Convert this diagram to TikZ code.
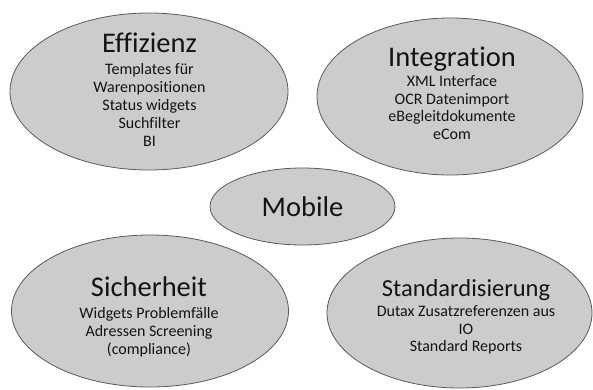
\documentclass[tikz,border=0pt]{standalone}
\usepackage{fontspec}
\setmainfont[Ligatures={NoCommon}]{Carlito}
\usetikzlibrary{shapes.geometric}
\definecolor{blobfill}{HTML}{CCCCCC}
\definecolor{blobline}{HTML}{5A5A5A}
\definecolor{txt}{HTML}{141414}
\tikzset{
  blob/.style={ellipse, draw=blobline, fill=blobfill, line width=0.8pt, inner sep=0pt},
  ttl/.style={anchor=base, inner sep=0pt, text=txt, font=\fontsize{28.5}{32}\selectfont},
  ttlsmall/.style={anchor=base, inner sep=0pt, text=txt, font=\fontsize{24.5}{28}\selectfont},
  sub/.style={anchor=base, inner sep=0pt, text=txt, font=\fontsize{16}{18}\selectfont}
}
\begin{document}
\begin{tikzpicture}[x=1pt,y=-1pt]
\useasboundingbox (0,0) rectangle (593,389);
% ellipses
\node[blob, minimum width=278pt, minimum height=157pt] (eff) at (149,91.5) {};
\node[blob, minimum width=266pt, minimum height=157pt] (int) at (450,96.5) {};
\node[blob, minimum width=185pt, minimum height=77pt] (mob) at (302.5,206.5) {};
\node[blob, minimum width=277pt, minimum height=152pt] (sic) at (150,311) {};
\node[blob, minimum width=265pt, minimum height=150pt] (std) at (459.5,313) {};
% Effizienz
\node[ttl] (eff-t) at (149.5,52.7) {Effizienz};
\node[sub] (eff-1) at (149.5,74.3) {Templates für};
\node[sub] (eff-2) at (149.5,92.4) {Warenpositionen};
\node[sub] (eff-3) at (149.5,110.3) {Status widgets};
\node[sub] (eff-4) at (149.5,128.2) {Suchfilter};
\node[sub] (eff-5) at (149.5,146.1) {BI};
% Integration
\node[ttl] (int-t) at (452,66.7) {Integration};
\node[sub] (int-1) at (452,86) {XML Interface};
\node[sub] (int-2) at (452,104) {OCR Datenimport};
\node[sub] (int-3) at (452,121.7) {eBegleitdokumente};
\node[sub] (int-4) at (452,139.3) {eCom};
% Mobile
\node[ttl] (mob-t) at (302.5,216) {Mobile};
% Sicherheit
\node[ttl] (sic-t) at (149,296.7) {Sicherheit};
\node[sub] (sic-1) at (149,318.3) {Widgets Problemfälle};
\node[sub] (sic-2) at (149,336.4) {Adressen Screening};
\node[sub] (sic-3) at (149,354.3) {(compliance)};
% Standardisierung
\node[ttlsmall] (std-t) at (466,296.7) {Standardisierung};
\node[sub] (std-1) at (466,316.7) {Dutax Zusatzreferenzen aus};
\node[sub] (std-2) at (466,334.3) {IO};
\node[sub] (std-3) at (466,351.9) {Standard Reports};
\end{tikzpicture}
\end{document}
